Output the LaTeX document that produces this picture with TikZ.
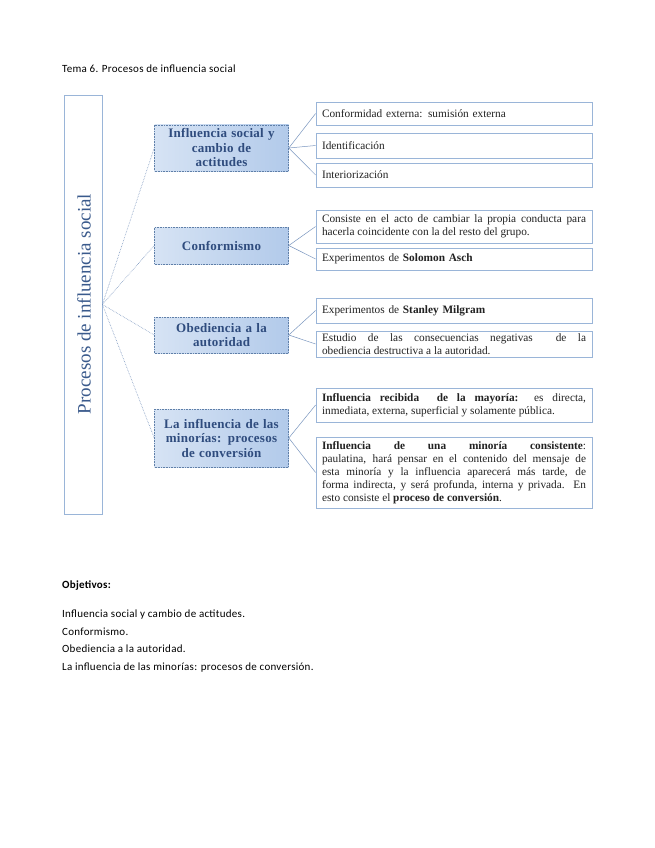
\documentclass[tikz,border=0pt]{standalone}
\usepackage{fontspec}
\setmainfont{Liberation Serif}
\newfontfamily\calibrifont[LetterSpace=2.5]{Carlito}
\newfontfamily\midserif[LetterSpace=2]{Liberation Serif}
\usetikzlibrary{shadows}
\definecolor{titleblue}{HTML}{2F4C7E}
\definecolor{rotblue}{HTML}{3A5A8C}
\definecolor{midtop}{HTML}{D6E3F4}
\definecolor{midbot}{HTML}{B2CAEA}
\definecolor{midborder}{HTML}{5F7FA8}
\definecolor{rborder}{HTML}{9AB5D8}
\definecolor{linkc}{HTML}{7A96BF}
\definecolor{rtext}{HTML}{222222}
\tikzset{
  midbox/.style={draw=midborder, densely dotted, line width=0.6pt, left color=midtop, right color=midbot,
    minimum width=134pt, text width=130pt, align=center, inner sep=2pt, text=titleblue,
    font=\midserif\fontsize{13}{14.5}\selectfont\bfseries},
  rbox/.style={draw=rborder, line width=0.8pt, fill=white, minimum width=276pt, text width=264pt,
    align=justify, inner xsep=6pt, inner ysep=2pt, text=rtext,
    font=\fontsize{11.3}{13}\selectfont,
    drop shadow={shadow xshift=0.8pt, shadow yshift=-0.8pt, fill=black!25, opacity=0.6}},
  lbox/.style={draw=rborder, line width=0.8pt, fill=white, minimum width=38pt, minimum height=419pt},
  link/.style={draw=linkc, line width=0.5pt},
  dlink/.style={draw=linkc, densely dotted, line width=0.6pt},
  doc/.style={anchor=base west, inner sep=0pt, font=\calibrifont\fontsize{11}{12}\selectfont}
}
\begin{document}
\begin{tikzpicture}[x=1pt,y=-1pt]
\useasboundingbox (0,0) rectangle (655,848);
\fill[white] (0,0) rectangle (655,848);

\node[doc] (title) at (62,73) {Tema 6. Procesos de influencia social};

% left box
\node[lbox] (L) at (83,304.5) {};
\node[rotate=90, text=rotblue, font=\fontsize{19}{20}\selectfont] (Lt) at (84,304) {Procesos de influencia social};

% middle boxes
\node[midbox, minimum height=46pt] (M1) at (221.5,148) {Influencia social y\\cambio de\\actitudes};
\node[midbox, minimum height=37pt] (M2) at (221.5,245.5) {Conformismo};
\node[midbox, minimum height=36pt] (M3) at (221.5,335) {Obediencia a la\\autoridad};
\node[midbox, minimum height=58pt] (M4) at (221.5,438) {La influencia de las\\minorías: procesos\\de conversión};

% right boxes
\node[rbox, minimum height=23pt, align=left] (A) at (454,113.5) {Conformidad externa: sumisión externa};
\node[rbox, minimum height=25pt, align=left] (B) at (454,145.5) {Identificación};
\node[rbox, minimum height=24pt, align=left] (C) at (454,175) {Interiorización};
\node[rbox, minimum height=33pt] (D) at (454,226.5) {Consiste en el acto de cambiar la propia conducta para \linebreak hacerla coincidente con la del resto del grupo.};
\node[rbox, minimum height=22pt, align=left] (E) at (454,259) {Experimentos de \textbf{Solomon Asch}};
\node[rbox, minimum height=25pt, align=left] (F) at (454,310.5) {Experimentos de \textbf{Stanley Milgram}};
\node[rbox, minimum height=26pt] (G) at (454,344) {Estudio de las consecuencias negativas \ de la \linebreak obediencia destructiva a la autoridad.};
\node[rbox, minimum height=34pt] (H) at (454,405) {\textbf{Influencia recibida \ de la mayoría:} es directa, \linebreak inmediata, externa, superficial y solamente pública.};
\node[rbox, minimum height=71pt] (I) at (454,472.5) {\textbf{Influencia de una minoría consistente}: \linebreak paulatina, hará pensar en el contenido del mensaje de \linebreak esta minoría y la influencia aparecerá más tarde, de \linebreak forma indirecta, y será profunda, interna y privada. En \linebreak esto consiste el \textbf{proceso de conversión}.};

% connectors
\draw[dlink] (L.east) -- (M1.west);
\draw[dlink] (L.east) -- (M2.west);
\draw[dlink] (L.east) -- (M3.west);
\draw[dlink] (L.east) -- (M4.west);

\draw[link] (M1.east) -- (A.west);
\draw[link] (M1.east) -- (B.west);
\draw[link] (M1.east) -- (C.west);
\draw[link] (M2.east) -- (D.west);
\draw[link] (M2.east) -- (E.west);
\draw[link] (M3.east) -- (F.west);
\draw[link] (M3.east) -- (G.west);
\draw[link] (M4.east) -- (H.west);
\draw[link] (M4.east) -- (I.west);

% objectives
\node[doc, font=\calibrifont\fontsize{11}{12}\selectfont\bfseries] (obj) at (62,588) {Objetivos:};
\node[doc] (o1) at (62,617) {Influencia social y cambio de actitudes.};
\node[doc] (o2) at (62,635) {Conformismo.};
\node[doc] (o3) at (62,652.5) {Obediencia a la autoridad.};
\node[doc] (o4) at (62,670) {La influencia de las minorías: procesos de conversión.};
\end{tikzpicture}
\end{document}
